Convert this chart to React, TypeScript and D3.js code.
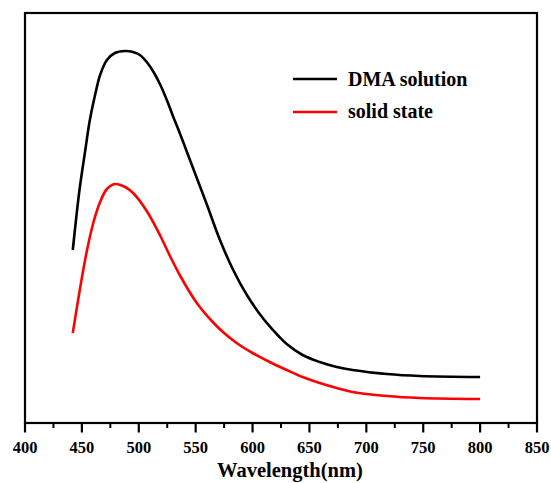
import React from "react";
import * as d3 from "d3";

const wavelengths = [442, 445, 448, 453, 457, 462, 466, 472, 479, 488, 495, 501, 507, 513, 519, 525, 530, 536, 542, 548, 554, 560, 571, 583, 595, 609, 622, 630, 644, 659, 674, 688, 718, 747, 800];
const dmaSolution = [173, 205, 234, 273, 303, 330, 348, 363, 370, 372, 371, 368, 361, 351, 338, 322, 307, 290, 272, 254, 236, 218, 184, 153, 128, 105, 88, 79, 68, 61, 56, 53, 49, 47, 46];

const wavelengthsSolid = [442, 448, 454, 460, 466, 472, 479, 488, 495, 507, 519, 527, 536, 551, 565, 575, 586, 600, 615, 630, 644, 659, 674, 688, 718, 747, 800];
const solidState = [90, 132, 170, 200, 221, 234, 239, 236, 230, 212, 187, 168, 148, 120, 101, 90, 80, 70, 61, 53, 46, 40, 35, 31, 27, 25, 24];

const xTicks = [400, 450, 500, 550, 600, 650, 700, 750, 800, 850];
const legendLabels = ["DMA solution", "solid state"];
const seriesColors = ["#000000", "#ff0000"];

export default function App() {
  const W = 551, H = 483;
  const left = 25, right = 537, top = 13, bottom = 423;
  const x = d3.scaleLinear().domain([400, 850]).range([left, right]);
  const y = d3.scaleLinear().domain([0, 410]).range([bottom, top]);
  const line = d3
    .line<[number, number]>()
    .x((d) => x(d[0]))
    .y((d) => y(d[1]))
    .curve(d3.curveCatmullRom.alpha(0.5));
  const blackData: [number, number][] = wavelengths.map((w, i) => [w, dmaSolution[i]]);
  const redData: [number, number][] = wavelengthsSolid.map((w, i) => [w, solidState[i]]);
  const minorTicks = d3.range(425, 850, 50);
  const fontStyle = { fontFamily: "'Liberation Serif', 'Times New Roman', serif" };

  return (
    <svg width={W} height={H} style={{ position: "absolute", left: 0, top: 0 }}>
      <rect x={0} y={0} width={W} height={H} fill="#fff" />
      <path d={line(blackData) || ""} fill="none" stroke={seriesColors[0]} strokeWidth={2.6} strokeLinejoin="round" />
      <path d={line(redData) || ""} fill="none" stroke={seriesColors[1]} strokeWidth={2.6} strokeLinejoin="round" />
      <rect x={left} y={top} width={right - left} height={bottom - top} fill="none" stroke="#000" strokeWidth={2.2} />
      {xTicks.map((t) => (
        <g key={t}>
          <line x1={x(t)} x2={x(t)} y1={bottom} y2={bottom + 9.5} stroke="#000" strokeWidth={2.2} />
          <text x={x(t)} y={453} textAnchor="middle" fontSize={16.5} fontWeight="bold" style={fontStyle}>
            {t}
          </text>
        </g>
      ))}
      {minorTicks.map((t) => (
        <line key={t} x1={x(t)} x2={x(t)} y1={bottom} y2={bottom + 5} stroke="#000" strokeWidth={2} />
      ))}
      <text x={290} y={477} textAnchor="middle" fontSize={20.5} fontWeight="bold" style={fontStyle}>
        Wavelength(nm)
      </text>
      {legendLabels.map((lab, i) => (
        <g key={lab}>
          <line x1={293} x2={337} y1={79 + i * 33} y2={79 + i * 33} stroke={seriesColors[i]} strokeWidth={2.6} />
          <text x={348} y={86 + i * 32} fontSize={20} fontWeight="bold" style={fontStyle}>
            {lab}
          </text>
        </g>
      ))}
    </svg>
  );
}
